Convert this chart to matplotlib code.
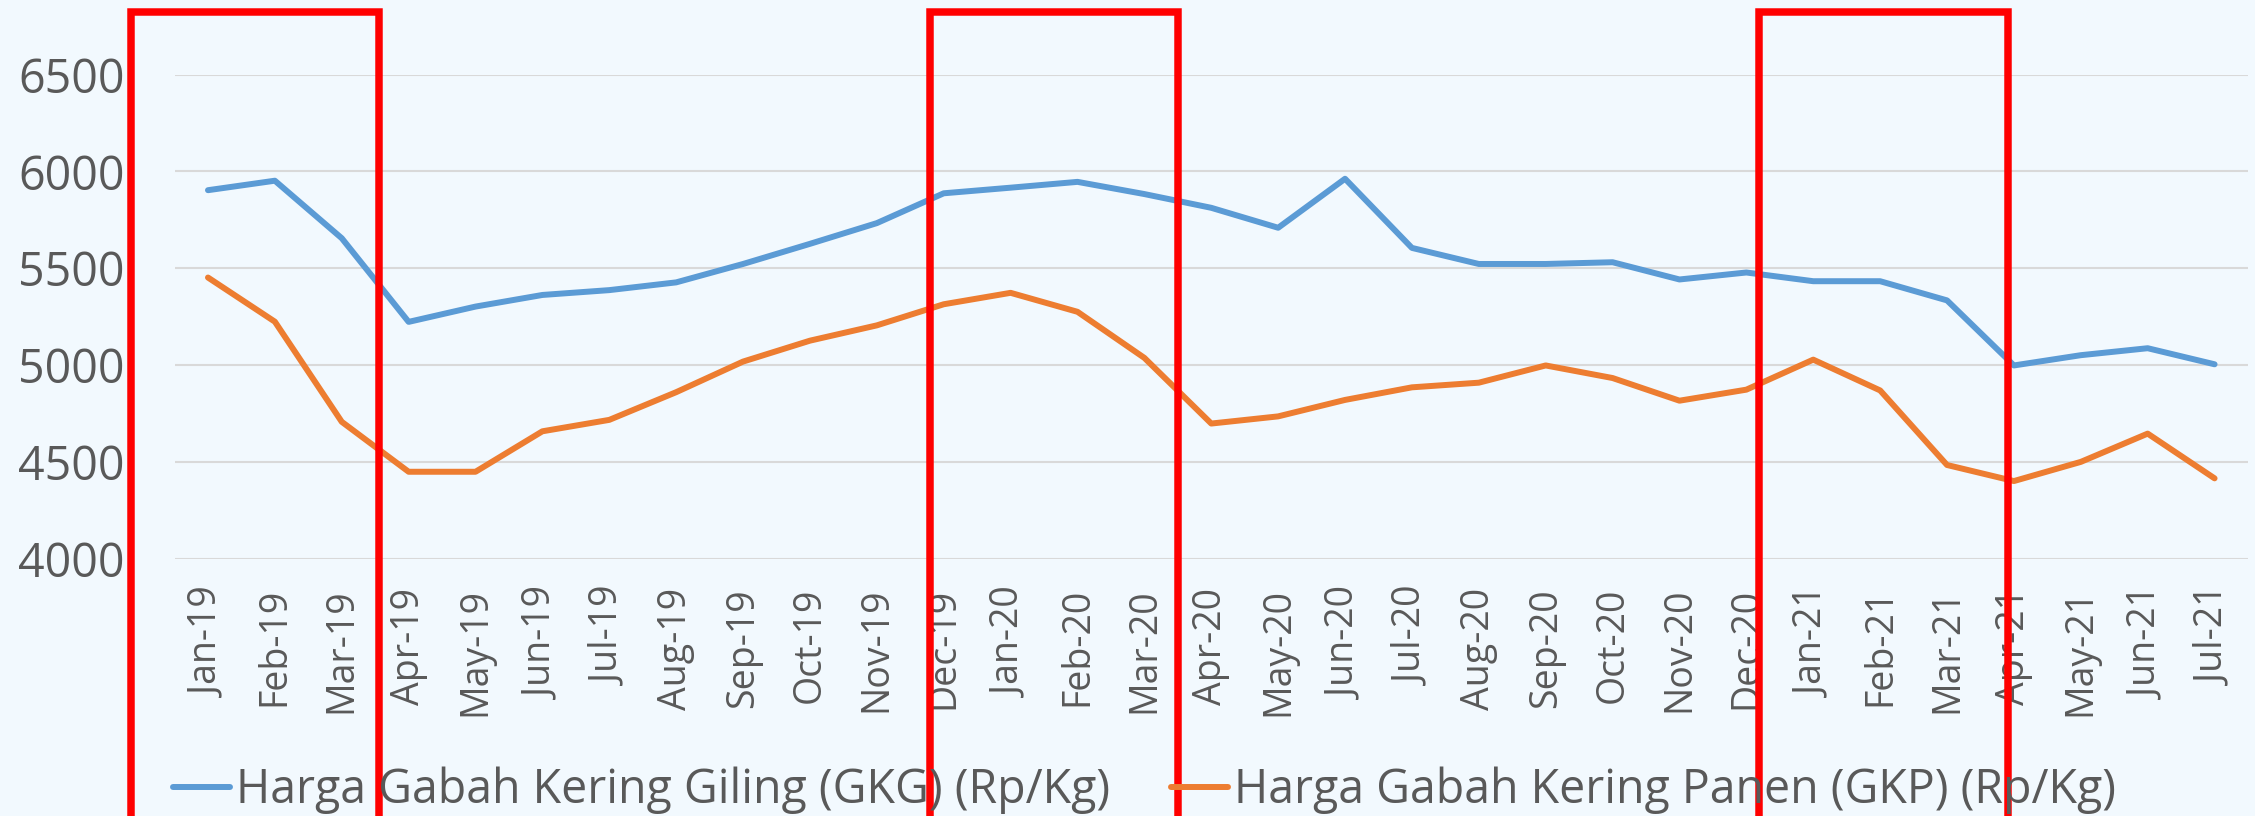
import matplotlib
matplotlib.use('Agg')
import matplotlib.pyplot as plt
from matplotlib.patches import Rectangle
from matplotlib.transforms import blended_transform_factory

# Data (Rp/Kg)
bulan = ['Jan-19', 'Feb-19', 'Mar-19', 'Apr-19', 'May-19', 'Jun-19', 'Jul-19', 'Aug-19',
         'Sep-19', 'Oct-19', 'Nov-19', 'Dec-19', 'Jan-20', 'Feb-20', 'Mar-20', 'Apr-20',
         'May-20', 'Jun-20', 'Jul-20', 'Aug-20', 'Sep-20', 'Oct-20', 'Nov-20', 'Dec-20',
         'Jan-21', 'Feb-21', 'Mar-21', 'Apr-21', 'May-21', 'Jun-21', 'Jul-21']

gkg = [5903, 5952, 5655, 5223, 5302, 5362, 5387, 5427, 5522, 5626, 5733, 5887, 5916,
       5946, 5883, 5812, 5709, 5962, 5605, 5522, 5522, 5531, 5442, 5478, 5433, 5433,
       5334, 4998, 5051, 5087, 5004]

gkp = [5452, 5224, 4707, 4449, 4449, 4658, 4717, 4860, 5018, 5126, 5205, 5314, 5373,
       5275, 5037, 4698, 4735, 4820, 4885, 4909, 4998, 4933, 4816, 4873, 5028, 4869,
       4484, 4401, 4500, 4646, 4415]

label_gkg = 'Harga Gabah Kering Giling (GKG) (Rp/Kg)'
label_gkp = 'Harga Gabah Kering Panen (GKP) (Rp/Kg)'

# kotak merah penanda (dalam satuan indeks bulan)
sorotan = [(-1.15, 2.56), (10.79, 14.51), (23.19, 26.91)]

BG = '#F2F9FE'
TEXT = '#595959'

fig = plt.figure(figsize=(22.55, 8.16), dpi=100, facecolor=BG)
ax = fig.add_axes([0.0774, 0.3153, 0.9195, 0.5933])
ax.set_facecolor(BG)

x = list(range(len(bulan)))
ax.plot(x, gkg, color='#5B9BD5', linewidth=4.3, label=label_gkg, solid_capstyle='round', zorder=3)
ax.plot(x, gkp, color='#ED7D31', linewidth=4.3, label=label_gkp, solid_capstyle='round', zorder=3)

ax.set_xlim(-0.5, len(bulan) - 0.5)
ax.set_ylim(4000, 6500)
ax.set_yticks(range(4000, 6501, 500))
ax.set_xticks(x)
ax.set_xticklabels(bulan, rotation=90, fontsize=27, color=TEXT, family='Open Sans')
ax.tick_params(axis='x', length=0, pad=21)
ax.tick_params(axis='y', length=0, pad=36, labelsize=33.5, labelcolor=TEXT)
for t in ax.get_yticklabels():
    t.set_family('Open Sans')

ax.grid(axis='y', color='#D9D9D9', linewidth=1.5)
ax.set_axisbelow(True)
for s in ax.spines.values():
    s.set_visible(False)

leg = fig.legend(loc='center', bbox_to_anchor=(0.5075, 0.031), ncol=2, frameon=False,
                 prop={'family': 'Open Sans', 'size': 33.5}, handlelength=1.22,
                 handletextpad=0.13, columnspacing=1.31, borderpad=0)
for t in leg.get_texts():
    t.set_color(TEXT)
for h in leg.get_lines():
    h.set_linewidth(4.3)

trans = blended_transform_factory(ax.transData, fig.transFigure)
for x0, x1 in sorotan:
    ax.add_patch(Rectangle((x0, -0.2), x1 - x0, 0.9859 + 0.2, transform=trans, fill=False,
                           edgecolor='#FF0000', linewidth=5.4, clip_on=False, zorder=10))

plt.savefig('out.png', dpi=100, facecolor=BG)
plt.close()
